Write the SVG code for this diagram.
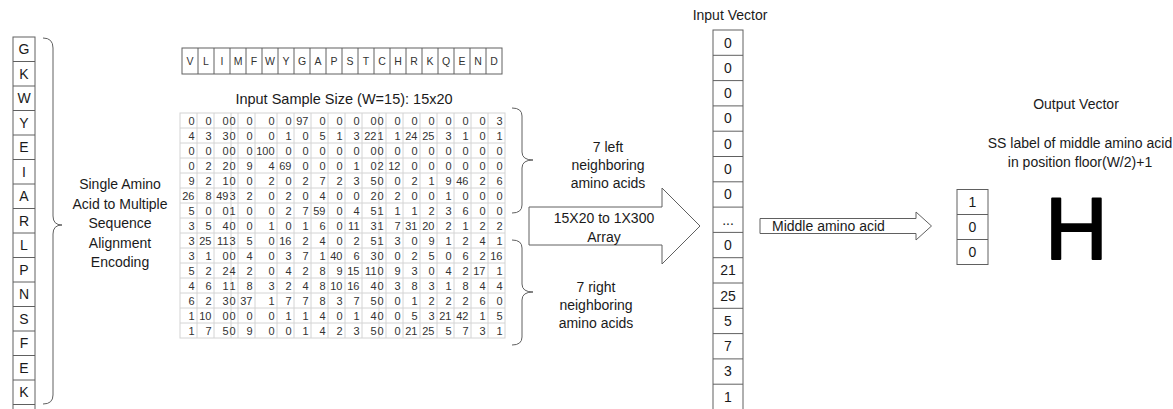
<svg xmlns="http://www.w3.org/2000/svg" width="1173" height="409" viewBox="0 0 1173 409">
<style>
text{font-family:"Liberation Sans",Arial,sans-serif;fill:#1a1a1a}
.lbl{font-size:14px;text-anchor:middle}
.hdr{font-size:10.5px;text-anchor:middle;fill:#333}
.num{font-size:11px;text-anchor:end;fill:#333}
.box{fill:#fff;stroke:#606060;stroke-width:1}
.grid{fill:none;stroke:#d4d4d4;stroke-width:1}
.br{fill:none;stroke:#606060;stroke-width:1}
.arr{fill:#fff;stroke:#606060;stroke-width:1;stroke-linejoin:miter}
</style>

<g id="sequence">
<rect class="box" x="13" y="37" width="22" height="380"/>
<path class="grid" style="stroke:#606060" d="M13,61.5H35M13,86H35M13,110.5H35M13,135H35M13,159.5H35M13,184H35M13,208.5H35M13,233H35M13,257.5H35M13,282H35M13,306.5H35M13,331H35M13,355.5H35M13,380H35M13,404.5H35"/>
<text class="lbl" x="24" y="54">G</text>
<text class="lbl" x="24" y="78.5">K</text>
<text class="lbl" x="24" y="103">W</text>
<text class="lbl" x="24" y="127.5">Y</text>
<text class="lbl" x="24" y="152">E</text>
<text class="lbl" x="24" y="176.5">I</text>
<text class="lbl" x="24" y="201">A</text>
<text class="lbl" x="24" y="225.5">R</text>
<text class="lbl" x="24" y="250">L</text>
<text class="lbl" x="24" y="274.5">P</text>
<text class="lbl" x="24" y="299">N</text>
<text class="lbl" x="24" y="323.5">S</text>
<text class="lbl" x="24" y="348">F</text>
<text class="lbl" x="24" y="372.5">E</text>
<text class="lbl" x="24" y="397">K</text>
</g>

<g id="msa-label">
<text class="lbl" x="120" y="189">Single Amino</text>
<text class="lbl" x="120" y="208.5">Acid to Multiple</text>
<text class="lbl" x="120" y="228">Sequence</text>
<text class="lbl" x="120" y="247.5">Alignment</text>
<text class="lbl" x="120" y="267">Encoding</text>
</g>

<g id="braces">
<path class="br" d="M43,38 Q53,38 53,48 L53,216 Q53,225 62,225 Q53,225 53,234 L53,395 Q53,404 43,404"/>
<path class="br" d="M512,108 Q522,108 522,116 L522,152 Q522,160 533,160 Q522,160 522,168 L522,205 Q522,213 512,213"/>
<path class="br" d="M512,240 Q522,240 522,248 L522,284 Q522,292 533,292 Q522,292 522,300 L522,337 Q522,345 512,345"/>
</g>

<g id="header">
<rect class="box" x="182" y="48" width="320" height="26"/>
<path class="grid" style="stroke:#606060" d="M198,48V74M214,48V74M230,48V74M246,48V74M262,48V74M278,48V74M294,48V74M310,48V74M326,48V74M342,48V74M358,48V74M374,48V74M390,48V74M406,48V74M422,48V74M438,48V74M454,48V74M470,48V74M486,48V74"/>
<text class="hdr" y="65"><tspan x="190">V</tspan><tspan x="206">L</tspan><tspan x="222">I</tspan><tspan x="238">M</tspan><tspan x="254">F</tspan><tspan x="270">W</tspan><tspan x="286">Y</tspan><tspan x="302">G</tspan><tspan x="318">A</tspan><tspan x="334">P</tspan><tspan x="350">S</tspan><tspan x="366">T</tspan><tspan x="382">C</tspan><tspan x="398">H</tspan><tspan x="414">R</tspan><tspan x="430">K</tspan><tspan x="446">Q</tspan><tspan x="462">E</tspan><tspan x="478">N</tspan><tspan x="494">D</tspan></text>
</g>

<g id="title">
<text class="lbl" x="344" y="104" style="font-size:14.5px">Input Sample Size (W=15): 15x20</text>
</g>

<g id="matrix">
<rect class="grid" x="180" y="113" width="325" height="225"/>
<path class="grid" d="M180,128H505M180,143H505M180,158H505M180,173H505M180,188H505M180,203H505M180,218H505M180,233H505M180,248H505M180,263H505M180,278H505M180,293H505M180,308H505M180,323H505M197,113V338M214,113V338M231,113V338M238,113V338M255,113V338M277,113V338M294,113V338M311,113V338M328,113V338M345,113V338M362,113V338M379,113V338M386,113V338M403,113V338M420,113V338M437,113V338M454,113V338M471,113V338M488,113V338"/>
<text class="num" y="124.5"><tspan x="194.5">0</tspan><tspan x="211.5">0</tspan><tspan x="228.5">0</tspan><tspan x="235.5">0</tspan><tspan x="252.5">0</tspan><tspan x="274.5">0</tspan><tspan x="291.5">0</tspan><tspan x="308.5">97</tspan><tspan x="325.5">0</tspan><tspan x="342.5">0</tspan><tspan x="359.5">0</tspan><tspan x="376.5">0</tspan><tspan x="383.5">0</tspan><tspan x="400.5">0</tspan><tspan x="417.5">0</tspan><tspan x="434.5">0</tspan><tspan x="451.5">0</tspan><tspan x="468.5">0</tspan><tspan x="485.5">0</tspan><tspan x="502.5">3</tspan></text>
<text class="num" y="139.5"><tspan x="194.5">4</tspan><tspan x="211.5">3</tspan><tspan x="228.5">3</tspan><tspan x="235.5">0</tspan><tspan x="252.5">0</tspan><tspan x="274.5">0</tspan><tspan x="291.5">1</tspan><tspan x="308.5">0</tspan><tspan x="325.5">5</tspan><tspan x="342.5">1</tspan><tspan x="359.5">3</tspan><tspan x="376.5">22</tspan><tspan x="383.5">1</tspan><tspan x="400.5">1</tspan><tspan x="417.5">24</tspan><tspan x="434.5">25</tspan><tspan x="451.5">3</tspan><tspan x="468.5">1</tspan><tspan x="485.5">0</tspan><tspan x="502.5">1</tspan></text>
<text class="num" y="154.5"><tspan x="194.5">0</tspan><tspan x="211.5">0</tspan><tspan x="228.5">0</tspan><tspan x="235.5">0</tspan><tspan x="252.5">0</tspan><tspan x="274.5">100</tspan><tspan x="291.5">0</tspan><tspan x="308.5">0</tspan><tspan x="325.5">0</tspan><tspan x="342.5">0</tspan><tspan x="359.5">0</tspan><tspan x="376.5">0</tspan><tspan x="383.5">0</tspan><tspan x="400.5">0</tspan><tspan x="417.5">0</tspan><tspan x="434.5">0</tspan><tspan x="451.5">0</tspan><tspan x="468.5">0</tspan><tspan x="485.5">0</tspan><tspan x="502.5">0</tspan></text>
<text class="num" y="169.5"><tspan x="194.5">0</tspan><tspan x="211.5">2</tspan><tspan x="228.5">2</tspan><tspan x="235.5">0</tspan><tspan x="252.5">9</tspan><tspan x="274.5">4</tspan><tspan x="291.5">69</tspan><tspan x="308.5">0</tspan><tspan x="325.5">0</tspan><tspan x="342.5">0</tspan><tspan x="359.5">1</tspan><tspan x="376.5">0</tspan><tspan x="383.5">2</tspan><tspan x="400.5">12</tspan><tspan x="417.5">0</tspan><tspan x="434.5">0</tspan><tspan x="451.5">0</tspan><tspan x="468.5">0</tspan><tspan x="485.5">0</tspan><tspan x="502.5">0</tspan></text>
<text class="num" y="184.5"><tspan x="194.5">9</tspan><tspan x="211.5">2</tspan><tspan x="228.5">1</tspan><tspan x="235.5">0</tspan><tspan x="252.5">0</tspan><tspan x="274.5">2</tspan><tspan x="291.5">0</tspan><tspan x="308.5">2</tspan><tspan x="325.5">7</tspan><tspan x="342.5">2</tspan><tspan x="359.5">3</tspan><tspan x="376.5">5</tspan><tspan x="383.5">0</tspan><tspan x="400.5">0</tspan><tspan x="417.5">2</tspan><tspan x="434.5">1</tspan><tspan x="451.5">9</tspan><tspan x="468.5">46</tspan><tspan x="485.5">2</tspan><tspan x="502.5">6</tspan></text>
<text class="num" y="199.5"><tspan x="194.5">26</tspan><tspan x="211.5">8</tspan><tspan x="228.5">49</tspan><tspan x="235.5">3</tspan><tspan x="252.5">2</tspan><tspan x="274.5">0</tspan><tspan x="291.5">2</tspan><tspan x="308.5">0</tspan><tspan x="325.5">4</tspan><tspan x="342.5">0</tspan><tspan x="359.5">0</tspan><tspan x="376.5">2</tspan><tspan x="383.5">0</tspan><tspan x="400.5">2</tspan><tspan x="417.5">0</tspan><tspan x="434.5">0</tspan><tspan x="451.5">1</tspan><tspan x="468.5">0</tspan><tspan x="485.5">0</tspan><tspan x="502.5">0</tspan></text>
<text class="num" y="214.5"><tspan x="194.5">5</tspan><tspan x="211.5">0</tspan><tspan x="228.5">0</tspan><tspan x="235.5">1</tspan><tspan x="252.5">0</tspan><tspan x="274.5">0</tspan><tspan x="291.5">2</tspan><tspan x="308.5">7</tspan><tspan x="325.5">59</tspan><tspan x="342.5">0</tspan><tspan x="359.5">4</tspan><tspan x="376.5">5</tspan><tspan x="383.5">1</tspan><tspan x="400.5">1</tspan><tspan x="417.5">1</tspan><tspan x="434.5">2</tspan><tspan x="451.5">3</tspan><tspan x="468.5">6</tspan><tspan x="485.5">0</tspan><tspan x="502.5">0</tspan></text>
<text class="num" y="229.5"><tspan x="194.5">3</tspan><tspan x="211.5">5</tspan><tspan x="228.5">4</tspan><tspan x="235.5">0</tspan><tspan x="252.5">0</tspan><tspan x="274.5">1</tspan><tspan x="291.5">0</tspan><tspan x="308.5">1</tspan><tspan x="325.5">6</tspan><tspan x="342.5">0</tspan><tspan x="359.5">11</tspan><tspan x="376.5">3</tspan><tspan x="383.5">1</tspan><tspan x="400.5">7</tspan><tspan x="417.5">31</tspan><tspan x="434.5">20</tspan><tspan x="451.5">2</tspan><tspan x="468.5">1</tspan><tspan x="485.5">2</tspan><tspan x="502.5">2</tspan></text>
<text class="num" y="244.5"><tspan x="194.5">3</tspan><tspan x="211.5">25</tspan><tspan x="228.5">11</tspan><tspan x="235.5">3</tspan><tspan x="252.5">5</tspan><tspan x="274.5">0</tspan><tspan x="291.5">16</tspan><tspan x="308.5">2</tspan><tspan x="325.5">4</tspan><tspan x="342.5">0</tspan><tspan x="359.5">2</tspan><tspan x="376.5">5</tspan><tspan x="383.5">1</tspan><tspan x="400.5">3</tspan><tspan x="417.5">0</tspan><tspan x="434.5">9</tspan><tspan x="451.5">1</tspan><tspan x="468.5">2</tspan><tspan x="485.5">4</tspan><tspan x="502.5">1</tspan></text>
<text class="num" y="259.5"><tspan x="194.5">3</tspan><tspan x="211.5">1</tspan><tspan x="228.5">0</tspan><tspan x="235.5">0</tspan><tspan x="252.5">4</tspan><tspan x="274.5">0</tspan><tspan x="291.5">3</tspan><tspan x="308.5">7</tspan><tspan x="325.5">1</tspan><tspan x="342.5">40</tspan><tspan x="359.5">6</tspan><tspan x="376.5">3</tspan><tspan x="383.5">0</tspan><tspan x="400.5">0</tspan><tspan x="417.5">2</tspan><tspan x="434.5">5</tspan><tspan x="451.5">0</tspan><tspan x="468.5">6</tspan><tspan x="485.5">2</tspan><tspan x="502.5">16</tspan></text>
<text class="num" y="274.5"><tspan x="194.5">5</tspan><tspan x="211.5">2</tspan><tspan x="228.5">2</tspan><tspan x="235.5">4</tspan><tspan x="252.5">2</tspan><tspan x="274.5">0</tspan><tspan x="291.5">4</tspan><tspan x="308.5">2</tspan><tspan x="325.5">8</tspan><tspan x="342.5">9</tspan><tspan x="359.5">15</tspan><tspan x="376.5">11</tspan><tspan x="383.5">0</tspan><tspan x="400.5">9</tspan><tspan x="417.5">3</tspan><tspan x="434.5">0</tspan><tspan x="451.5">4</tspan><tspan x="468.5">2</tspan><tspan x="485.5">17</tspan><tspan x="502.5">1</tspan></text>
<text class="num" y="289.5"><tspan x="194.5">4</tspan><tspan x="211.5">6</tspan><tspan x="228.5">1</tspan><tspan x="235.5">1</tspan><tspan x="252.5">8</tspan><tspan x="274.5">3</tspan><tspan x="291.5">2</tspan><tspan x="308.5">4</tspan><tspan x="325.5">8</tspan><tspan x="342.5">10</tspan><tspan x="359.5">16</tspan><tspan x="376.5">4</tspan><tspan x="383.5">0</tspan><tspan x="400.5">3</tspan><tspan x="417.5">8</tspan><tspan x="434.5">3</tspan><tspan x="451.5">1</tspan><tspan x="468.5">8</tspan><tspan x="485.5">4</tspan><tspan x="502.5">4</tspan></text>
<text class="num" y="304.5"><tspan x="194.5">6</tspan><tspan x="211.5">2</tspan><tspan x="228.5">3</tspan><tspan x="235.5">0</tspan><tspan x="252.5">37</tspan><tspan x="274.5">1</tspan><tspan x="291.5">7</tspan><tspan x="308.5">7</tspan><tspan x="325.5">8</tspan><tspan x="342.5">3</tspan><tspan x="359.5">7</tspan><tspan x="376.5">5</tspan><tspan x="383.5">0</tspan><tspan x="400.5">0</tspan><tspan x="417.5">1</tspan><tspan x="434.5">2</tspan><tspan x="451.5">2</tspan><tspan x="468.5">2</tspan><tspan x="485.5">6</tspan><tspan x="502.5">0</tspan></text>
<text class="num" y="319.5"><tspan x="194.5">1</tspan><tspan x="211.5">10</tspan><tspan x="228.5">0</tspan><tspan x="235.5">0</tspan><tspan x="252.5">0</tspan><tspan x="274.5">0</tspan><tspan x="291.5">1</tspan><tspan x="308.5">1</tspan><tspan x="325.5">4</tspan><tspan x="342.5">0</tspan><tspan x="359.5">1</tspan><tspan x="376.5">4</tspan><tspan x="383.5">0</tspan><tspan x="400.5">0</tspan><tspan x="417.5">5</tspan><tspan x="434.5">3</tspan><tspan x="451.5">21</tspan><tspan x="468.5">42</tspan><tspan x="485.5">1</tspan><tspan x="502.5">5</tspan></text>
<text class="num" y="334.5"><tspan x="194.5">1</tspan><tspan x="211.5">7</tspan><tspan x="228.5">5</tspan><tspan x="235.5">0</tspan><tspan x="252.5">9</tspan><tspan x="274.5">0</tspan><tspan x="291.5">0</tspan><tspan x="308.5">1</tspan><tspan x="325.5">4</tspan><tspan x="342.5">2</tspan><tspan x="359.5">3</tspan><tspan x="376.5">5</tspan><tspan x="383.5">0</tspan><tspan x="400.5">0</tspan><tspan x="417.5">21</tspan><tspan x="434.5">25</tspan><tspan x="451.5">5</tspan><tspan x="468.5">7</tspan><tspan x="485.5">3</tspan><tspan x="502.5">1</tspan></text>
</g>

<g id="left-neighbors">
<text class="lbl" x="608" y="152">7 left</text>
<text class="lbl" x="608" y="170">neighboring</text>
<text class="lbl" x="608" y="188">amino acids</text>
</g>

<g id="right-neighbors">
<text class="lbl" x="596" y="292">7 right</text>
<text class="lbl" x="596" y="310">neighboring</text>
<text class="lbl" x="596" y="328">amino acids</text>
</g>

<g id="connectors">
<path class="arr" d="M529,207H662V188L700,226L662,264V245H529Z"/>
<path class="arr" d="M760,218.5H916V212L931.5,226L916,240V233.5H760Z"/>
</g>

<g id="flatten-label">
<text class="lbl" x="604" y="223">15X20 to 1X300</text>
<text class="lbl" x="604" y="242">Array</text>
</g>

<g id="middle-label">
<text x="772" y="230.5" style="font-size:14px">Middle amino acid</text>
</g>

<g id="input-vector">
<text class="lbl" x="730" y="20">Input Vector</text>
<rect class="box" x="713" y="30" width="30" height="385"/>
<path class="grid" style="stroke:#606060" d="M713,55.3H743M713,80.6H743M713,105.9H743M713,131.2H743M713,156.5H743M713,181.8H743M713,207.1H743M713,232.4H743M713,257.7H743M713,283H743M713,308.3H743M713,333.6H743M713,358.9H743M713,384.2H743"/>
<text class="lbl" x="728" y="47.5">0</text>
<text class="lbl" x="728" y="72.8">0</text>
<text class="lbl" x="728" y="98.1">0</text>
<text class="lbl" x="728" y="123.4">0</text>
<text class="lbl" x="728" y="148.7">0</text>
<text class="lbl" x="728" y="174">0</text>
<text class="lbl" x="728" y="199.3">0</text>
<text class="lbl" x="728" y="224.6">...</text>
<text class="lbl" x="728" y="249.9">0</text>
<text class="lbl" x="728" y="275.2">21</text>
<text class="lbl" x="728" y="300.5">25</text>
<text class="lbl" x="728" y="325.8">5</text>
<text class="lbl" x="728" y="351.1">7</text>
<text class="lbl" x="728" y="376.4">3</text>
<text class="lbl" x="728" y="401.7">1</text>
</g>

<g id="output-vector">
<text class="lbl" x="1076" y="109">Output Vector</text>
<text class="lbl" x="1080" y="148">SS label of middle amino acid</text>
<text class="lbl" x="1080" y="167">in position floor(W/2)+1</text>
<rect class="box" x="957" y="189.5" width="31" height="75"/>
<path class="grid" style="stroke:#606060" d="M957,214.5H988M957,239.5H988"/>
<text class="lbl" x="972.5" y="207">1</text>
<text class="lbl" x="972.5" y="232">0</text>
<text class="lbl" x="972.5" y="257">0</text>
</g>

<g id="ss-label">
<text x="1076.5" y="259" style="font-size:87px;text-anchor:middle;fill:#000;stroke:#000;stroke-width:2;stroke-linejoin:round">H</text>
</g>
</svg>
